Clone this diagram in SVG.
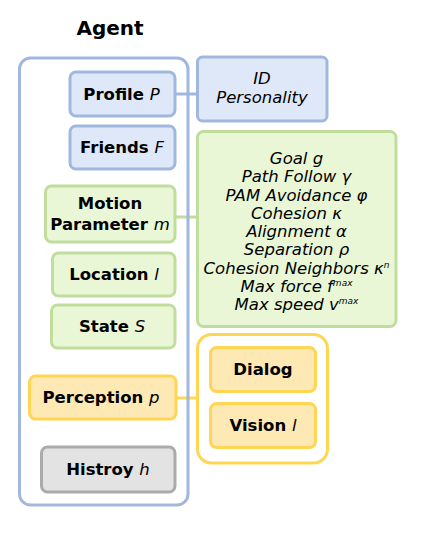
<svg xmlns="http://www.w3.org/2000/svg" width="431" height="534" viewBox="0 0 431 534">
<style>
text{font-family:"DejaVu Sans",Verdana,sans-serif;fill:#000;text-anchor:middle}
.b{font-weight:bold;font-size:16.5px}
.i{font-style:italic;font-weight:normal}
.g{font-style:italic;font-size:16.5px}
.blue{fill:#dfe8f8;stroke:#a0b8de;stroke-width:3}
.green{fill:#e9f7d7;stroke:#c1dd9e;stroke-width:3}
.yel{fill:#fee8b4;stroke:#ffd654;stroke-width:3}
.gray{fill:#e3e3e3;stroke:#ababab;stroke-width:3}
.sup{font-size:9px}
</style>
<rect width="431" height="534" fill="#fff"/>
<g id="connectors" stroke-width="3" fill="none">
<line x1="175" y1="94" x2="197" y2="94" stroke="#a0b8de"/>
<line x1="175" y1="217" x2="197" y2="217" stroke="#c1dd9e"/>
<line x1="176" y1="398" x2="197" y2="398" stroke="#ffd654"/>
</g>
<g id="agent">
<text x="110" y="35" style="font-weight:bold;font-size:20px">Agent</text>
<rect x="19.5" y="58" width="168.5" height="447" rx="11" fill="none" stroke="#a0b8de" stroke-width="3"/>
</g>
<g id="profile"><rect class="blue" x="70" y="72" width="105" height="44" rx="6"/><text class="b" x="121.5" y="99.5">Profile <tspan class="i">P</tspan></text></g>
<g id="friends"><rect class="blue" x="70" y="126" width="105" height="43" rx="6"/><text class="b" x="122" y="153">Friends <tspan class="i">F</tspan></text></g>
<g id="motion"><rect class="green" x="45.5" y="186" width="129.5" height="56" rx="6"/><text class="b" x="110" y="209">Motion</text><text class="b" x="110" y="230">Parameter <tspan class="i">m</tspan></text></g>
<g id="location"><rect class="green" x="52.5" y="253" width="122.5" height="43" rx="6"/><text class="b" x="114" y="280">Location <tspan class="i">l</tspan></text></g>
<g id="state"><rect class="green" x="51.5" y="305" width="123.5" height="43" rx="6"/><text class="b" x="112" y="332">State <tspan class="i">S</tspan></text></g>
<g id="perception"><rect class="yel" x="29.5" y="376" width="146.5" height="43" rx="6"/><text class="b" x="101" y="403">Perception <tspan class="i">p</tspan></text></g>
<g id="history"><rect class="gray" x="41.5" y="447" width="133.5" height="45" rx="6"/><text class="b" x="108" y="475">Histroy <tspan class="i">h</tspan></text></g>
<g id="id"><rect class="blue" x="197.5" y="57" width="129.5" height="64" rx="5"/><text class="g" x="262" y="84">ID</text><text class="g" x="262" y="103">Personality</text></g>
<g id="params"><rect class="green" x="197.5" y="131.5" width="198.5" height="195" rx="6"/>
<text class="g" x="296.5" y="164">Goal g</text>
<text class="g" x="296.5" y="182">Path Follow γ</text>
<text class="g" x="296.5" y="200.5">PAM Avoidance φ</text>
<text class="g" x="296.5" y="218.5">Cohesion κ</text>
<text class="g" x="296.5" y="237">Alignment α</text>
<text class="g" x="296.5" y="255">Separation ρ</text>
<text class="g" x="296.5" y="273.5">Cohesion Neighbors κ<tspan class="sup" dy="-6">n</tspan></text>
<text class="g" x="296.5" y="291.5">Max force f<tspan class="sup" dy="-6">max</tspan></text>
<text class="g" x="296.5" y="310">Max speed v<tspan class="sup" dy="-6">max</tspan></text>
</g>
<g id="perception-group"><rect x="197.5" y="334.5" width="130" height="128.5" rx="14" fill="#fff" stroke="#ffd654" stroke-width="3"/></g>
<g id="dialog"><rect class="yel" x="210.5" y="347.5" width="105" height="44" rx="6"/><text class="b" x="263" y="375">Dialog</text></g>
<g id="vision"><rect class="yel" x="210.5" y="403.5" width="105" height="44" rx="6"/><text class="b" x="263" y="431">Vision <tspan class="i">l</tspan></text></g>
</svg>
